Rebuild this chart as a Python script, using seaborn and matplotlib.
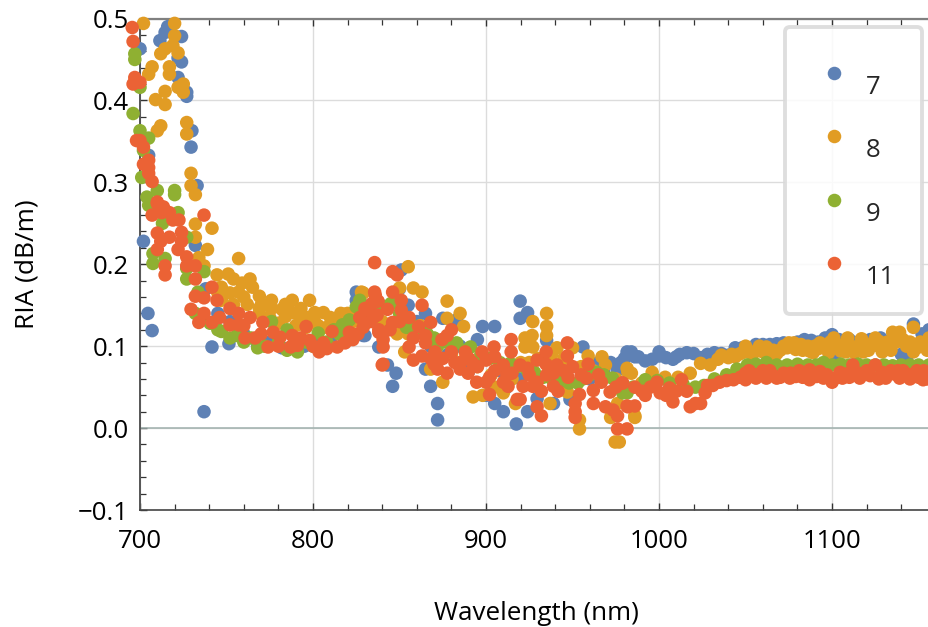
#RIA vs wavelength scatter, four series
import matplotlib.pyplot as plt
from matplotlib.ticker import MultipleLocator
import pandas as pd
import seaborn as sns

series_names = ["7", "8", "9", "11"]
series_colors = ["#5e81b5", "#e19c24", "#8fb032", "#eb6235"]

# (wavelength nm, RIA dB/m)
points_7 = [(700,.463),(705,.333),(702,.228),(704.6,.14),(707,.119),(711.5,.473),(714.5,.483),(716,.49),(722,.452),(724,.478),(724,.447),
    (722,.428),(727,.41),(727,.405),(730,.363),(729.5,.343),(733,.296),(732,.223),(737,.02),(741.6,.099),(751.4,.103),(738,.17),
    (745,.14),(752,.13),(760,.115),(768,.1),(775,.105),(782,.098),(788,.1),(795,.1),(802,.105),(810,.105),(818,.11),(830,.113),
    (826,.165),(826,.155),(825,.166),(825,.156),(851,.193),(829,.113),(838,.099),(843,.077),(848,.067),(846,.051),(865,.14),
    (865,.072),(868,.051),(872,.03),(872,.01),(875,.134),(883,.132),(898,.124),(905,.124),(895,.108),(919.7,.155),(919.7,.134),
    (924,.141),(905,.03),(910,.02),(917.5,.005),(924,.02),(929.5,.036),(939,.03),(956,.099),(948.5,.035),(935,.107),(981.5,.093),
    (976,.071),(986,.087),(850,.17),(855,.15),(860,.13),(878,.09),(890,.07),(900,.04),(912,.05),(930,.06),(945,.05),(960,.06),
    (968,.07),(978,.08),(980,.085),(984,.093),(988,.087),(992,.082),(996,.084),(1000,.093),(1004,.086),(1008,.084),(1012,.09),
    (1016,.092),(1020,.091),(1024,.086),(1028,.09),(1032,.092),(1036,.091),(1040,.089),(1044,.098),(1048,.093),(1052,.096),
    (1056,.102),(1060,.102),(1064,.097),(1068,.103),(1072,.104),(1076,.1),(1080,.098),(1084,.108),(1088,.107),(1092,.105),
    (1096,.11),(1100,.114),(1101,.087),(1104,.108),(1110,.108),(1116,.106),(1122,.108),(1128,.11),(1134,.108),(1140,.09),
    (1143,.085),(1147,.127),(1152,.115),(1156,.12),(868,.1),(858,.12),(885,.1),(895,.08),(908,.07),(920,.06),(940,.06),(955,.07),
    (965,.08),(972,.08),(1000,.088),(1010,.087),(1030,.087),(1048,.098),(1064,.102),(1080,.105),(1096,.104),(1108,.104),(1120,.1),(1130,.1)]

points_8 = [(702,.494),(720,.494),(720,.479),(722,.458),(714.5,.463),(712,.457),(719,.467),(707,.441),(705,.432),(717,.441),(717,.432),
    (725,.42),(722,.416),(725,.41),(714.5,.411),(709,.401),(714.5,.395),(712,.369),(710,.363),(727,.373),(727,.359),(729.5,.311),
    (729.5,.296),(732,.285),(732,.249),(741.6,.244),(732,.233),(739,.218),(757,.207),(734,.208),(737,.198),(744.5,.187),(751,.188),
    (754,.182),(763.6,.182),(759,.177),(765,.172),(757,.166),(747,.172),(769,.161),(747,.156),(754,.151),(762,.151),(769,.146),
    (776,.156),(776,.146),(784,.151),(788,.156),(798,.156),(793,.146),(788,.141),(784,.136),(801,.141),(806,.141),(816,.14),(820,.14),
    (811,.129),(801,.13),(794,.13),(769,.14),(808,.123),(796,.123),(780,.128),(790,.125),(829,.165),(855,.197),(828,.166),(850,.171),
    (858,.171),(863,.166),(877.5,.155),(885,.14),(877.5,.134),(887,.124),(818,.139),(825,.14),(840,.13),(848.6,.115),(853,.093),
    (868,.072),(875,.056),(892.5,.038),(898,.04),(935,.14),(927,.13),(935,.124),(935,.113),(926.6,.113),(922.5,.11),(922.5,.099),
    (927,.099),(941,.098),(950,.098),(959,.088),(967,.087),(969,.077),(981.5,.073),(984,.067),(937,.03),(917,.03),(910,.043),
    (954,.01),(954,-.001),(972,.013),(974.6,-.017),(977,-.017),(986,.013),(947,.044),(976,.03),(905,.05),(915,.06),(925,.08),
    (982,.068),(986,.015),(996,.068),(1003.5,.062),(1011,.062),(1018,.067),(1024,.079),(1029.5,.077),(1036,.089),(1040,.086),
    (1044,.087),(1048,.092),(1051,.093),(1056,.094),(1060,.093),(1064,.09),(1068,.091),(1072,.1),(1075,.104),(1079,.096),(1083,.095),
    (1087,.094),(1090,.1),(1093,.104),(1097,.1),(1101,.11),(1105,.094),(1109,.11),(1113,.092),(1117,.109),(1121,.095),(1125,.11),
    (1129,.093),(1132,.105),(1135,.117),(1139,.117),(1143,.1),(1147,.123),(1147,.093),(1151,.105),(1155,.095),(1156,.11),
    (745,.165),(752,.165),(760,.16),(770,.15),(775,.135),(782,.145),(790,.14),(797,.135),(803,.125),(810,.135),(815,.125),(823,.13),
    (830,.14),(835,.13),(845,.125),(855,.115),(862,.125),(870,.105),(880,.09),(888,.085),(895,.075),(903,.065),(912,.07),(920,.08),
    (930,.085),(938,.09),(945,.085),(955,.075),(962,.07),(975,.06),(990,.055),(1034,.084),(1042,.09),(1046,.09),(1050,.1),(1054,.09),
    (1058,.1),(1062,.099),(1066,.095),(1070,.095),(1074,.098),(1078,.104),(1082,.102),(1086,.1),(1089,.092),(1092,.097),(1095,.1),
    (1099,.105),(1103,.102),(1107,.102),(1111,.1),(1115,.1),(1119,.102),(1123,.103),(1127,.1),(1131,.098),(1134,.095),(1137,.105),
    (1141,.108),(1145,.105),(1149,.098),(1153,.102),(1118,.093),(1108,.093),(1098,.092),(1127,.106)]

points_9 = [(697,.457),(697,.45),(696,.384),(700,.416),(700,.363),(705,.354),(702,.339),(701,.306),(710,.29),(704,.282),(720,.29),(720,.285),
    (705,.272),(722,.263),(713,.25),(727,.233),(707.5,.213),(707.5,.201),(714.5,.207),(727,.195),(737,.191),(727,.182),(733.5,.166),
    (732,.14),(740.5,.128),(747,.118),(756,.113),(768,.098),(776,.13),(791,.093),(785,.12),(803,.116),(817,.126),(825,.148),(812,.12),
    (796,.105),(764,.11),(780,.105),(821,.132),(827,.156),(839,.15),(845,.152),(854,.123),(862,.122),(870,.11),(877,.105),(883,.104),
    (891,.099),(902,.085),(914,.079),(924,.07),(933,.062),(948,.055),(956,.06),(964,.068),(973,.061),(981.5,.043),(979,.043),
    (985,.05),(992,.059),(999,.058),(1006,.055),(1014,.053),(1021,.05),(1026,.052),(1032,.06),(1039,.065),(1045,.072),(1051,.077),
    (1056,.078),(1062,.08),(1068,.077),(1074,.077),(1080,.078),(1086,.077),(1091,.077),(1095,.08),(1100,.077),(1105,.078),(1110,.077),
    (1115,.078),(1120,.077),(1125,.077),(1130,.077),(1135,.076),(1140,.077),(1145,.077),(1150,.077),(1156,.077),
    (745,.12),(752,.11),(760,.105),(772,.1),(785,.095),(792,.105),(800,.1),(808,.105),(815,.115),(833,.15),(850,.14),(858,.125),
    (866,.115),(872,.1),(888,.095),(897,.09),(908,.08),(918,.075),(928,.068),(938,.06),(943,.058),(953,.055),(960,.065),(968,.065),(977,.05)]

points_11 = [(695.5,.489),(696,.472),(697,.428),(700,.422),(696,.42),(700,.351),(698,.351),(702,.343),(705,.327),(702,.322),(705,.318),
    (705,.311),(707,.301),(710,.276),(710,.274),(713.5,.27),(717,.263),(707,.26),(712.5,.263),(719,.254),(722.5,.254),(737,.26),
    (710,.238),(724,.239),(717,.233),(712,.228),(724,.228),(710,.218),(722,.218),(727,.209),(727,.198),(732,.198),(714.5,.198),
    (714.5,.187),(732,.182),(741.6,.172),(732,.161),(737,.159),(744.5,.156),(729.5,.145),(737,.14),(734,.129),(741.6,.129),(746,.135),
    (752,.146),(752,.126),(757,.14),(757,.126),(763.6,.135),(760.7,.11),(766.5,.11),(771,.129),(774,.099),(777,.117),(781,.111),
    (788,.113),(787,.099),(796,.124),(798,.107),(791,.101),(803.5,.093),(806,.104),(811,.118),(814,.099),(818.5,.104),(821,.117),
    (829,.123),(831,.144),(835.6,.202),(836,.162),(834,.152),(837,.138),(838,.117),(840,.077),(846,.191),(848.6,.187),(835.6,.166),
    (846,.166),(837.6,.155),(851,.156),(863,.15),(843,.145),(851,.144),(830,.146),(827,.135),(835,.135),(855.5,.135),(846,.129),
    (868,.129),(861,.124),(880,.12),(838,.12),(844.5,.12),(865,.113),(877.5,.113),(858,.11),(874.5,.108),(840.5,.108),(865,.104),
    (855.5,.099),(840.5,.099),(914.5,.108),(904.6,.099),(914.5,.093),(870.5,.093),(880,.093),(888,.093),(897.7,.093),(863,.088),
    (858,.083),(840.5,.078),(870,.078),(885,.08),(892,.08),(900,.083),(905,.087),(910,.077),(872,.072),(877.5,.067),(885,.072),
    (889.6,.067),(902,.062),(894.6,.056),(900,.056),(910,.056),(912.7,.051),(902,.041),(919.7,.077),(915,.067),(924,.073),(929.5,.083),
    (934.7,.093),(934.7,.078),(941,.077),(947,.104),(947,.088),(959,.078),(939,.067),(929.5,.056),(921.4,.051),(927,.051),(932,.045),
    (918,.035),(919.7,.035),(929.5,.026),(932,.015),(939,.051),(941.6,.045),(947.4,.062),(958,.061),(954,.041),(951.5,.03),(951.5,.02),
    (951.5,.013),(962,.03),(962,.046),(966.6,.056),(969,.026),(971.7,.044),(973.4,.022),(976,.015),(976,-.001),(981.5,-.001),
    (978.6,.055),(981.5,.027),(986,.05),(986,.027),(979,.055),(982,.026),(990,.045),(992,.04),(995,.05),(998.8,.056),(1000.6,.043),
    (1004,.04),(1008,.032),(1006,.049),(1010,.045),(1013,.059),(1016,.045),(1018,.026),(1021,.03),(1024,.03),(1026.6,.043),(1028,.052),
    (1031,.052),(1035,.056),(1039,.058),(1043,.059),(1047,.062),(1050,.059),(1050,.067),(1054,.066),(1058,.066),(1062,.061),(1066,.064),
    (1070,.062),(1075.6,.061),(1079,.063),(1083,.062),(1087,.071),(1087,.059),(1091,.063),(1095,.061),(1100,.056),(1104.6,.068),(1108,.066),
    (1112,.077),(1116,.061),(1120,.07),(1125,.077),(1129,.068),(1133,.067),(1136,.066),(1139,.061),(1143,.066),(1147,.066),(1150,.062),
    (1152.6,.059),(1156,.066),(760,.125),(770,.115),(780,.1),(793,.11),(800,.1),(808,.097),(823,.108),(826,.115),(833,.13),(850,.13),
    (868,.085),(875,.085),(882,.08),(895,.075),(890,.085),(905,.07),(912,.065),(925,.065),(935,.065),(945,.07),(950,.075),(955,.065),
    (965,.065),(975,.05),(1052,.07),(1056,.061),(1060,.07),(1064,.07),(1068,.061),(1072,.067),(1076,.067),(1081,.07),(1085,.064),
    (1089,.067),(1093,.069),(1097,.065),(1102,.061),(1106,.061),(1110,.062),(1114,.068),(1118,.066),(1122,.064),(1127,.06),(1131,.061),
    (1134,.07),(1138,.07),(1141,.07),(1145,.06),(1149,.07),(1153,.07),(1155,.06)]

rows = []
for name, pts in zip(series_names, [points_7, points_8, points_9, points_11]):
    for w, r in pts:
        rows.append({"wavelength": w, "ria": r, "series": name})
df = pd.DataFrame(rows)

sns.set_theme(style="white")
plt.rcParams["font.family"] = ["Open Sans", "DejaVu Sans"]

fig = plt.figure(figsize=(9.29, 6.27), dpi=100)
ax = fig.add_axes([140 / 929, 1 - 510 / 627, 789 / 929, 491.5 / 627])

sns.scatterplot(data=df, x="wavelength", y="ria", hue="series", hue_order=series_names,
                palette=series_colors, s=95, linewidth=0, clip_on=False, zorder=3, ax=ax)

ax.set_xlim(700, 1156)
ax.set_ylim(-0.1, 0.5)
ax.xaxis.set_major_locator(MultipleLocator(100))
ax.xaxis.set_minor_locator(MultipleLocator(20))
ax.yaxis.set_major_locator(MultipleLocator(0.1))
ax.yaxis.set_minor_locator(MultipleLocator(0.02))
ax.grid(True, which="major", color="#dcdcdc", linewidth=1)
ax.set_axisbelow(True)
ax.axhline(0, color="#9fb0ad", linewidth=1.1, zorder=1)

ax.tick_params(which="major", direction="in", length=5, width=1, color="#333333", labelsize=18.5,
               top=True, bottom=True, left=True, labelcolor="black", pad=14)
ax.tick_params(which="minor", direction="in", length=4, width=0.9, color="#333333", top=True, bottom=True, left=True)
ax.tick_params(axis="y", which="both", pad=8)

ax.spines["left"].set_color("#555555")
ax.spines["left"].set_linewidth(1.4)
ax.spines["bottom"].set_color("#444444")
ax.spines["bottom"].set_linewidth(1.2)
ax.spines["top"].set_color("#808080")
ax.spines["top"].set_linewidth(1.6)
ax.spines["right"].set_visible(False)

ax.set_xlabel("Wavelength (nm)", fontsize=18.7, color="black")
ax.set_ylabel("RIA (dB/m)", fontsize=18.9, color="black")
ax.xaxis.set_label_coords((536 - 140) / 789, -(613 - 510 - 12) / 491.5)
ax.yaxis.set_label_coords(-(140 - 39) / 789, 0.5)

handles, labels = ax.get_legend_handles_labels()
leg = ax.legend(handles, labels, loc="upper left", bbox_to_anchor=((785 - 140) / 789, 1 - (27 - 18.5) / 491.5),
                fontsize=18.5, labelspacing=1.49, borderpad=1.4, handlelength=1.01, handletextpad=0.4,
                borderaxespad=0, frameon=True, framealpha=0.85, facecolor="white", edgecolor="#d9d9d9", fancybox=True)
leg.get_frame().set_linewidth(2.8)
leg.set_zorder(5)
# labels sit a bit lower and further right than their markers
for t in leg.get_texts():
    t.set_x(9)
    t.set_y(-12)

fig.savefig("out.png", dpi=100)
plt.close(fig)
